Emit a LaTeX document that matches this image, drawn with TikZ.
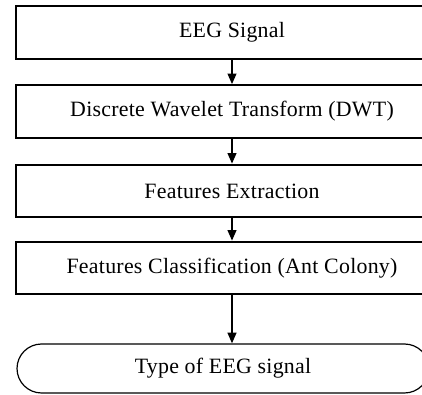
\documentclass[tikz,border=0pt]{standalone}
\usepackage{fontspec}
\setmainfont{Liberation Serif}[LetterSpace=1.2]
\usepackage{tikz}
\usetikzlibrary{arrows.meta}

\begin{document}
\begin{tikzpicture}[x=0.75pt, y=-0.75pt,
		stage/.style={draw, line width=1.5pt, minimum width=324.75pt, minimum height=39.4pt, inner sep=0pt, font=\fontsize{16.4}{19}\selectfont},
		stadium/.style={draw, line width=0.9pt, rounded corners=18.4pt, minimum width=309pt, minimum height=36.75pt, inner sep=0pt, font=\fontsize{16.4}{19}\selectfont},
		flow/.style={line width=1.5pt, -{Triangle[length=8pt, width=6.5pt]}}]
	\useasboundingbox (0,0) rectangle (422,395);

	% processing chain
	\node[stage] (eeg) at (232,32.5) {EEG Signal};
	\node[stage] (dwt) at (232,111.5) {Discrete Wavelet Transform (DWT)};
	\node[stage] (fext) at (232,191) {Features Extraction};
	\node[stage] (fcls) at (232,268) {Features Classification (Ant Colony)};
	\node[stadium] (out) at (223,368.5) {Type of EEG signal};

	\draw[flow] (eeg) -- (dwt);
	\draw[flow] (dwt) -- (fext);
	\draw[flow] (fext) -- (fcls);
	\draw[flow] (fcls.south) -- (fcls.south |- out.north);
\end{tikzpicture}
\end{document}
